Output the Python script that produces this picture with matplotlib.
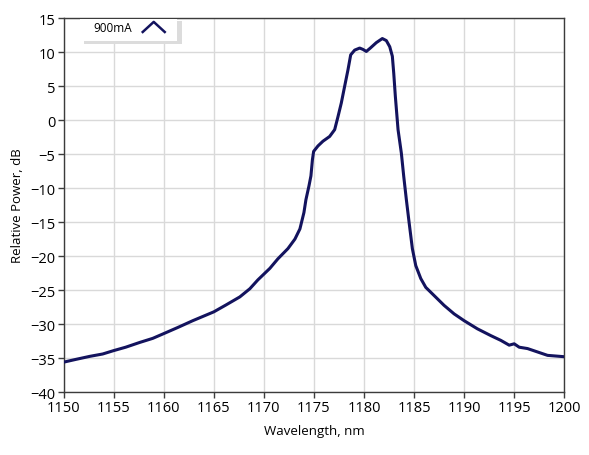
import matplotlib
matplotlib.use("Agg")
import matplotlib.pyplot as plt
from matplotlib.patches import Rectangle

# spectrum, 900 mA drive current
wavelength_nm = [
    1150.0, 1151.2, 1152.6, 1153.9, 1155.0, 1156.2, 1157.6, 1158.9, 1160.0,
    1161.4, 1162.9, 1165.0, 1166.2, 1167.6, 1168.6, 1169.4, 1170.6, 1171.4,
    1172.4, 1173.1, 1173.6, 1174.0, 1174.2, 1174.5, 1174.7, 1174.85, 1174.97,
    1175.4, 1175.9, 1176.57, 1177.07, 1177.4, 1177.73, 1178.07, 1178.4, 1178.67,
    1179.07, 1179.57, 1179.9, 1180.23, 1180.63, 1181.23, 1181.83, 1182.23,
    1182.57, 1182.83, 1182.97, 1183.13, 1183.4, 1183.73, 1183.97, 1184.23,
    1184.5, 1184.83, 1185.17, 1185.67, 1186.17, 1187.0, 1188.0, 1189.0, 1190.0,
    1191.33, 1192.67, 1193.67, 1194.5, 1195.0, 1195.5, 1196.33, 1197.33,
    1198.33, 1200.0,
]
power_db = [
    -35.6, -35.2, -34.75, -34.4, -33.9, -33.4, -32.7, -32.1, -31.4,
    -30.5, -29.5, -28.2, -27.2, -26.0, -24.8, -23.5, -21.8, -20.4,
    -18.9, -17.5, -16.0, -13.6, -11.7, -9.7, -8.2, -5.8, -4.6,
    -3.8, -3.1, -2.4, -1.4, 0.5, 2.5, 5.0, 7.4, 9.6,
    10.3, 10.6, 10.4, 10.1, 10.6, 11.4, 12.0, 11.7,
    10.8, 9.4, 6.9, 3.5, -1.4, -4.85, -8.3, -11.7,
    -15.0, -18.9, -21.4, -23.3, -24.6, -25.8, -27.25, -28.5, -29.5,
    -30.7, -31.7, -32.4, -33.1, -32.9, -33.4, -33.6, -34.1,
    -34.6, -34.8,
]
series_label = "900mA"
x_ticks = list(range(1150, 1201, 5))
y_ticks = list(range(-40, 16, 5))

plt.rcParams["font.family"] = ["Open Sans", "DejaVu Sans"]
plt.rcParams["font.size"] = 9.5

line_color = "#13135e"
spine_color = "#3c3c3c"

fig = plt.figure(figsize=(5.89, 4.56), dpi=100)
ax = fig.add_axes([0.108, 0.138, 0.850, 0.820])

ax.plot(wavelength_nm, power_db, color=line_color, lw=2.2,
        solid_joinstyle="round", solid_capstyle="round", zorder=3)

ax.set_xlim(1150, 1200)
ax.set_ylim(-40, 15)
ax.set_xticks(x_ticks)
ax.set_yticks(y_ticks)
ax.grid(True, color="#d9d9d9", lw=1.0)
ax.set_axisbelow(True)
for s in ax.spines.values():
    s.set_color(spine_color)
    s.set_linewidth(1.0)
ax.tick_params(direction="out", length=4, width=1, color=spine_color,
               labelsize=10.5, pad=2)
ax.set_xlabel("Wavelength, nm", fontsize=9.5, labelpad=6)
ax.set_ylabel("Relative Power, dB", fontsize=9.5, labelpad=4)

# legend box with a soft shadow, drawn in axes fraction
ax.add_patch(Rectangle((0.040, 0.931), 0.196, 0.062, transform=ax.transAxes,
                       facecolor="#dcdcdc", edgecolor="none", zorder=5))
ax.add_patch(Rectangle((0.033, 0.939), 0.193, 0.058, transform=ax.transAxes,
                       facecolor="white", edgecolor="none", zorder=6))
ax.text(0.059, 0.976, series_label, transform=ax.transAxes, fontsize=8.5,
        va="center", ha="left", zorder=7)
ax.plot([0.158, 0.180, 0.202], [0.963, 0.990, 0.963], transform=ax.transAxes,
        color=line_color, lw=1.8, zorder=7)

fig.savefig("out.png", dpi=100)
